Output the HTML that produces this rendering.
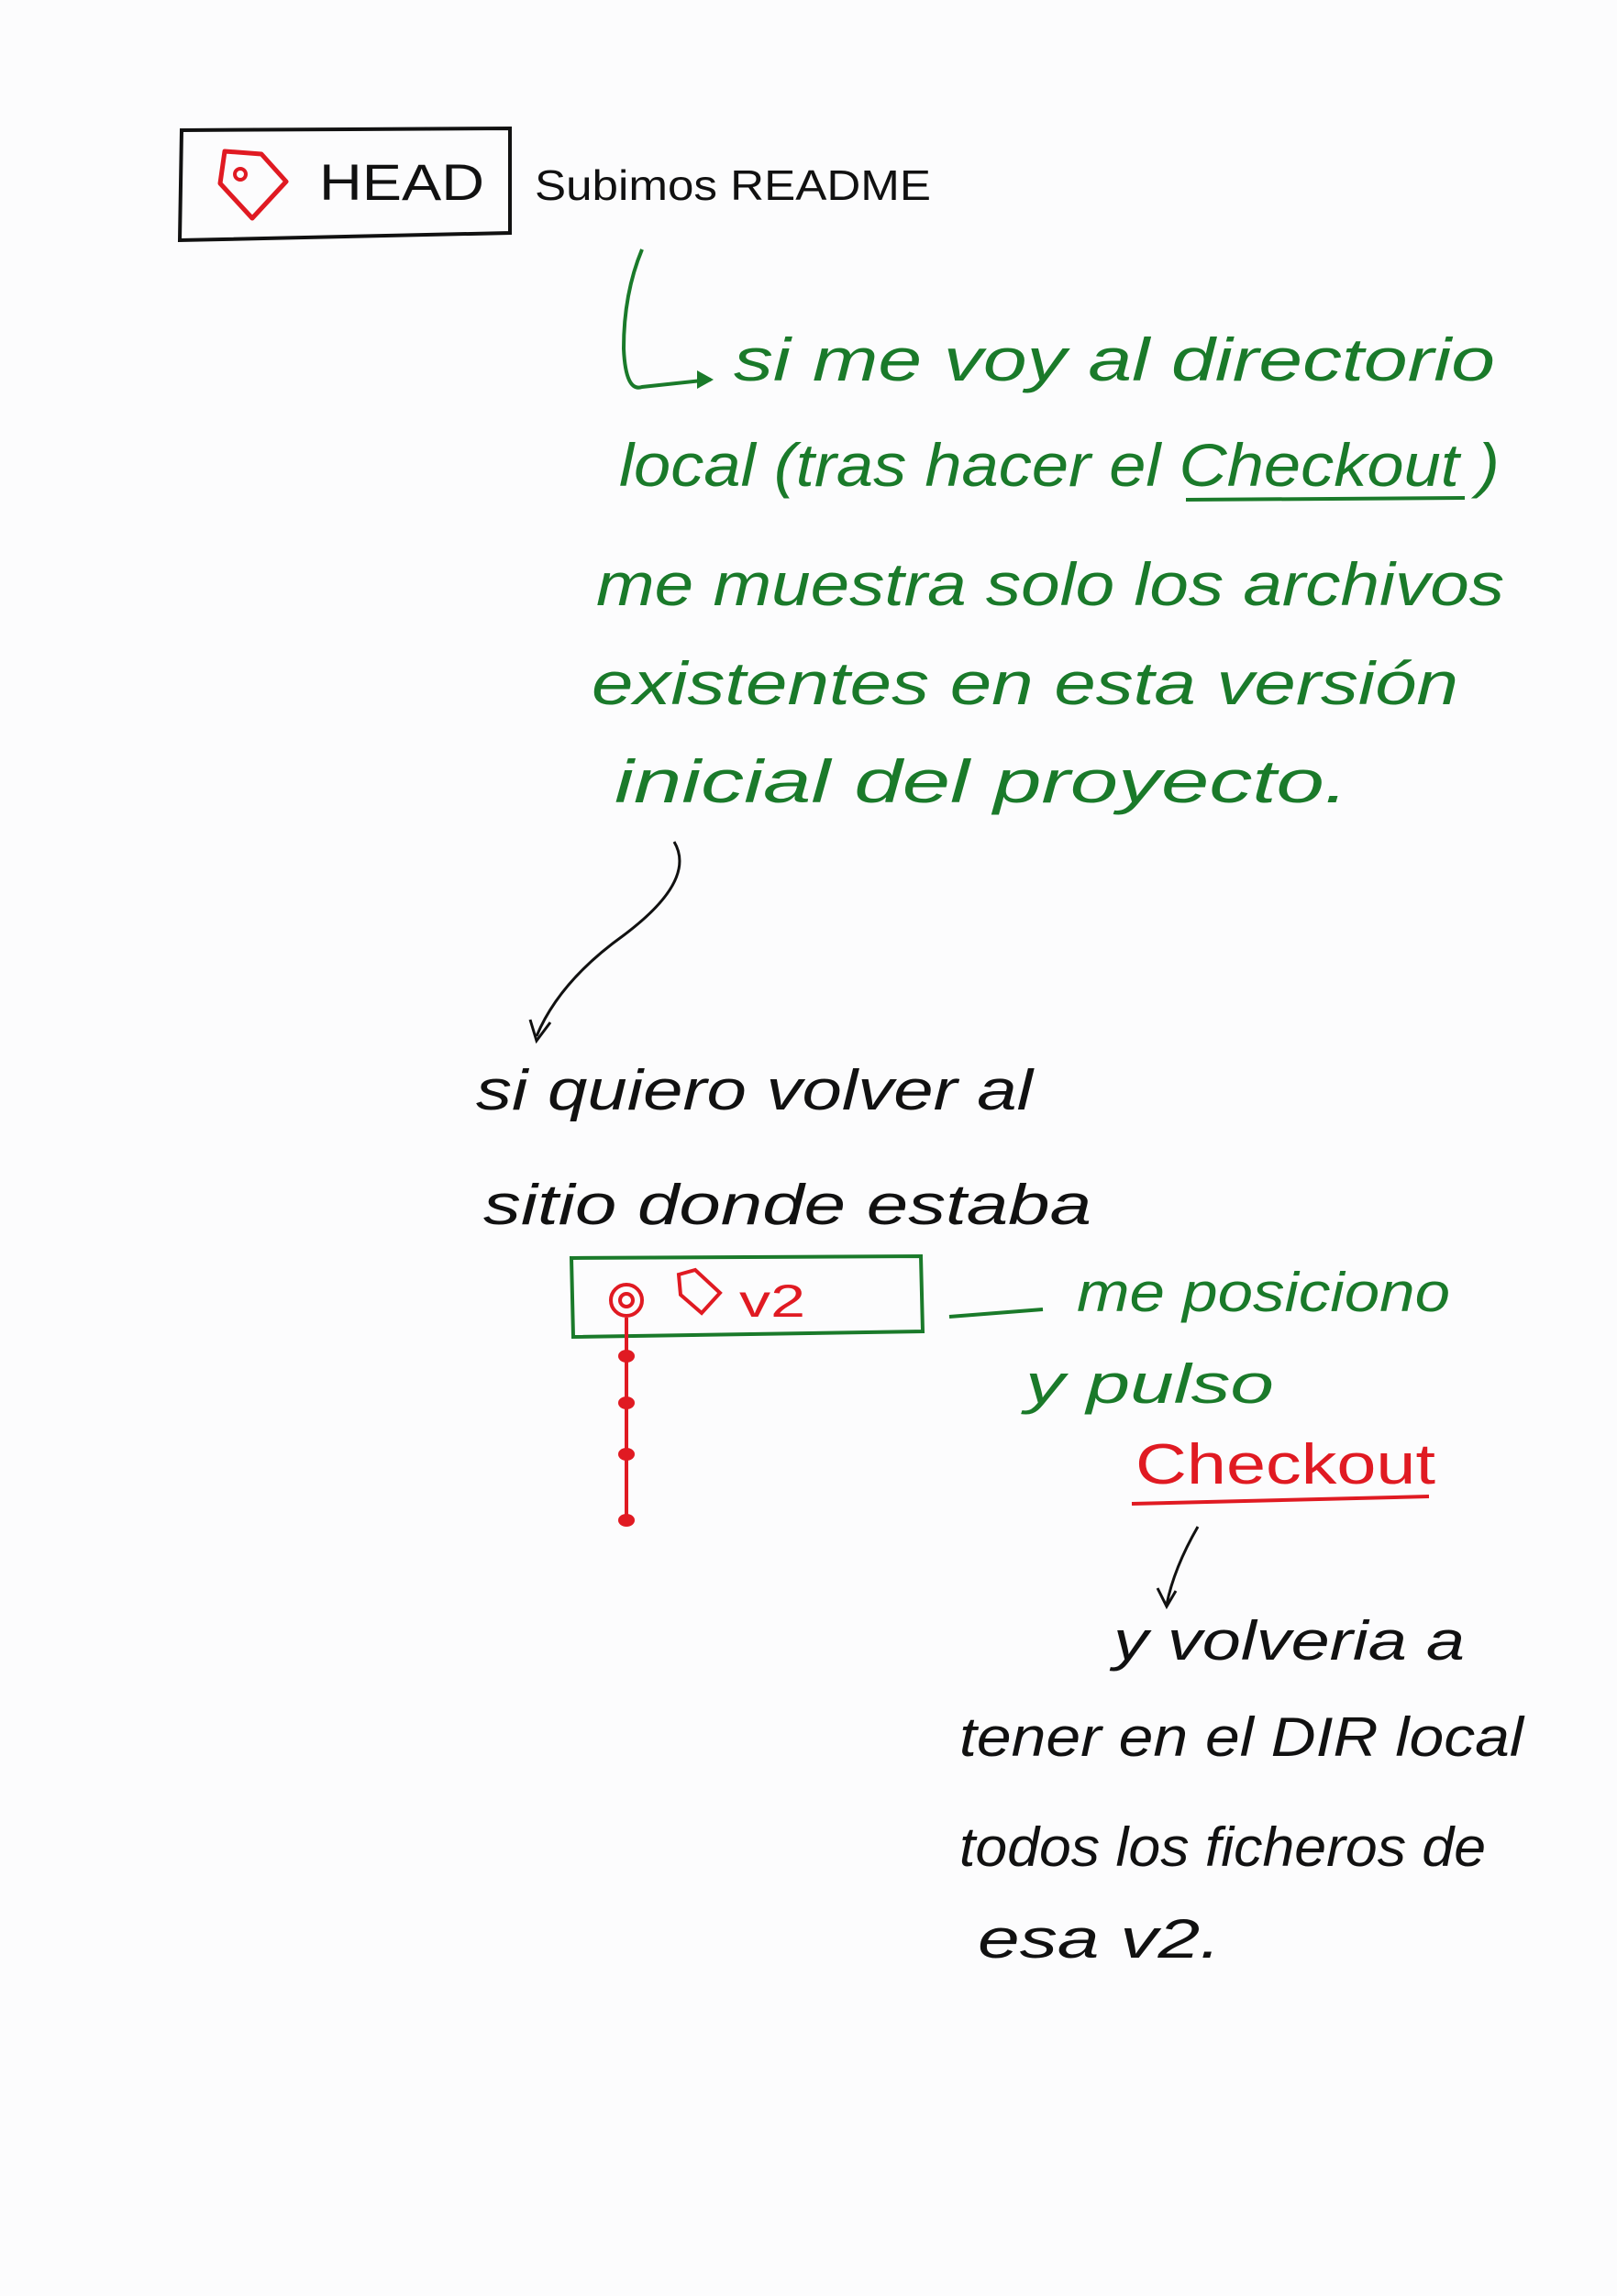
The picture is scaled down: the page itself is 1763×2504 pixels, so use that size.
<!DOCTYPE html>
<html><head><meta charset="utf-8"><style>
html,body{margin:0;padding:0;background:#fdfdfd;}
svg{display:block}
text{font-family:"Liberation Sans",sans-serif;}
</style></head><body>
<svg width="1763" height="2504" viewBox="0 0 1763 2504" xmlns="http://www.w3.org/2000/svg">
<rect width="1763" height="2504" fill="#fcfcfd"/>
<!-- HEAD box -->
<path d="M198 142 L556 140 L556 254 L196 262 Z" fill="none" stroke="#111" stroke-width="4"/>
<path d="M245 165 L285 168 L312 198 L275 238 L240 200 Z" fill="none" stroke="#e01a22" stroke-width="5" stroke-linejoin="round"/>
<circle cx="262" cy="190" r="6" fill="none" stroke="#e01a22" stroke-width="4"/>
<text x="348" y="218" font-size="56" fill="#111" textLength="180" lengthAdjust="spacingAndGlyphs">HEAD</text>
<text x="583" y="218" font-size="46" fill="#111" textLength="432" lengthAdjust="spacingAndGlyphs">Subimos README</text>
<!-- green text -->
<g fill="#1a7a2a" font-size="66" font-style="italic">
<text x="800" y="415" textLength="830" lengthAdjust="spacingAndGlyphs">si me voy al directorio</text>
<text x="675" y="530" textLength="960" lengthAdjust="spacingAndGlyphs">local (tras hacer el Checkout )</text>
<text x="650" y="660" textLength="990" lengthAdjust="spacingAndGlyphs">me muestra solo los archivos</text>
<text x="645" y="768" textLength="945" lengthAdjust="spacingAndGlyphs">existentes en esta versión</text>
<text x="670" y="875" textLength="800" lengthAdjust="spacingAndGlyphs">inicial del proyecto.</text>
</g>
<path d="M700 272 Q680 320 680 380 Q682 428 700 422 L775 414" fill="none" stroke="#1a7a2a" stroke-width="4"/>
<path d="M760 404 L778 414 L760 424 Z" fill="#1a7a2a"/>
<path d="M1293 545 L1597 543" stroke="#1a7a2a" stroke-width="4"/>
<!-- black arrow -->
<path d="M735 918 Q760 960 680 1020 Q610 1070 585 1130" fill="none" stroke="#111" stroke-width="3"/>
<path d="M578 1112 L585 1135 L600 1115" fill="none" stroke="#111" stroke-width="3"/>
<g fill="#111" font-size="62" font-style="italic">
<text x="519" y="1210" textLength="607" lengthAdjust="spacingAndGlyphs">si quiero volver al</text>
<text x="527" y="1335" textLength="663" lengthAdjust="spacingAndGlyphs">sitio donde estaba</text>
</g>
<!-- green box -->
<path d="M623 1372 L1004 1370 L1006 1452 L625 1458 Z" fill="none" stroke="#1a7a2a" stroke-width="4"/>
<circle cx="683" cy="1418" r="17" fill="none" stroke="#e01a22" stroke-width="4"/>
<circle cx="683" cy="1418" r="7" fill="none" stroke="#e01a22" stroke-width="4"/>
<path d="M740 1390 L758 1385 L785 1410 L765 1432 L742 1412 Z" fill="none" stroke="#e01a22" stroke-width="4"/>
<text x="806" y="1436" font-size="50" fill="#e01a22" textLength="72" lengthAdjust="spacingAndGlyphs">v2</text>
<path d="M683 1437 L683 1661" stroke="#e01a22" stroke-width="4"/>
<g fill="#e01a22"><ellipse cx="683" cy="1479" rx="9" ry="7"/><ellipse cx="683" cy="1530" rx="9" ry="7"/><ellipse cx="683" cy="1586" rx="9" ry="7"/><ellipse cx="683" cy="1658" rx="9" ry="7"/></g>
<path d="M1035 1436 L1137 1428" stroke="#1a7a2a" stroke-width="4"/>
<g fill="#1a7a2a" font-size="60" font-style="italic">
<text x="1174" y="1430" textLength="407" lengthAdjust="spacingAndGlyphs">me posiciono</text>
<text x="1118" y="1530" textLength="271" lengthAdjust="spacingAndGlyphs">y pulso</text>
</g>
<text x="1238" y="1618" font-size="62" fill="#e01a22" textLength="327" lengthAdjust="spacingAndGlyphs">Checkout</text>
<path d="M1234 1640 L1558 1632" stroke="#e01a22" stroke-width="4"/>
<path d="M1306 1665 Q1280 1710 1272 1750" fill="none" stroke="#111" stroke-width="3"/>
<path d="M1262 1732 L1272 1752 L1282 1735" fill="none" stroke="#111" stroke-width="3"/>
<g fill="#111" font-size="60" font-style="italic">
<text x="1214" y="1810" textLength="383" lengthAdjust="spacingAndGlyphs">y volveria a</text>
<text x="1046" y="1915" textLength="615" lengthAdjust="spacingAndGlyphs">tener en el DIR local</text>
<text x="1046" y="2035" textLength="574" lengthAdjust="spacingAndGlyphs">todos los ficheros de</text>
<text x="1066" y="2135" textLength="265" lengthAdjust="spacingAndGlyphs">esa v2.</text>
</g>
</svg>
</body></html>
